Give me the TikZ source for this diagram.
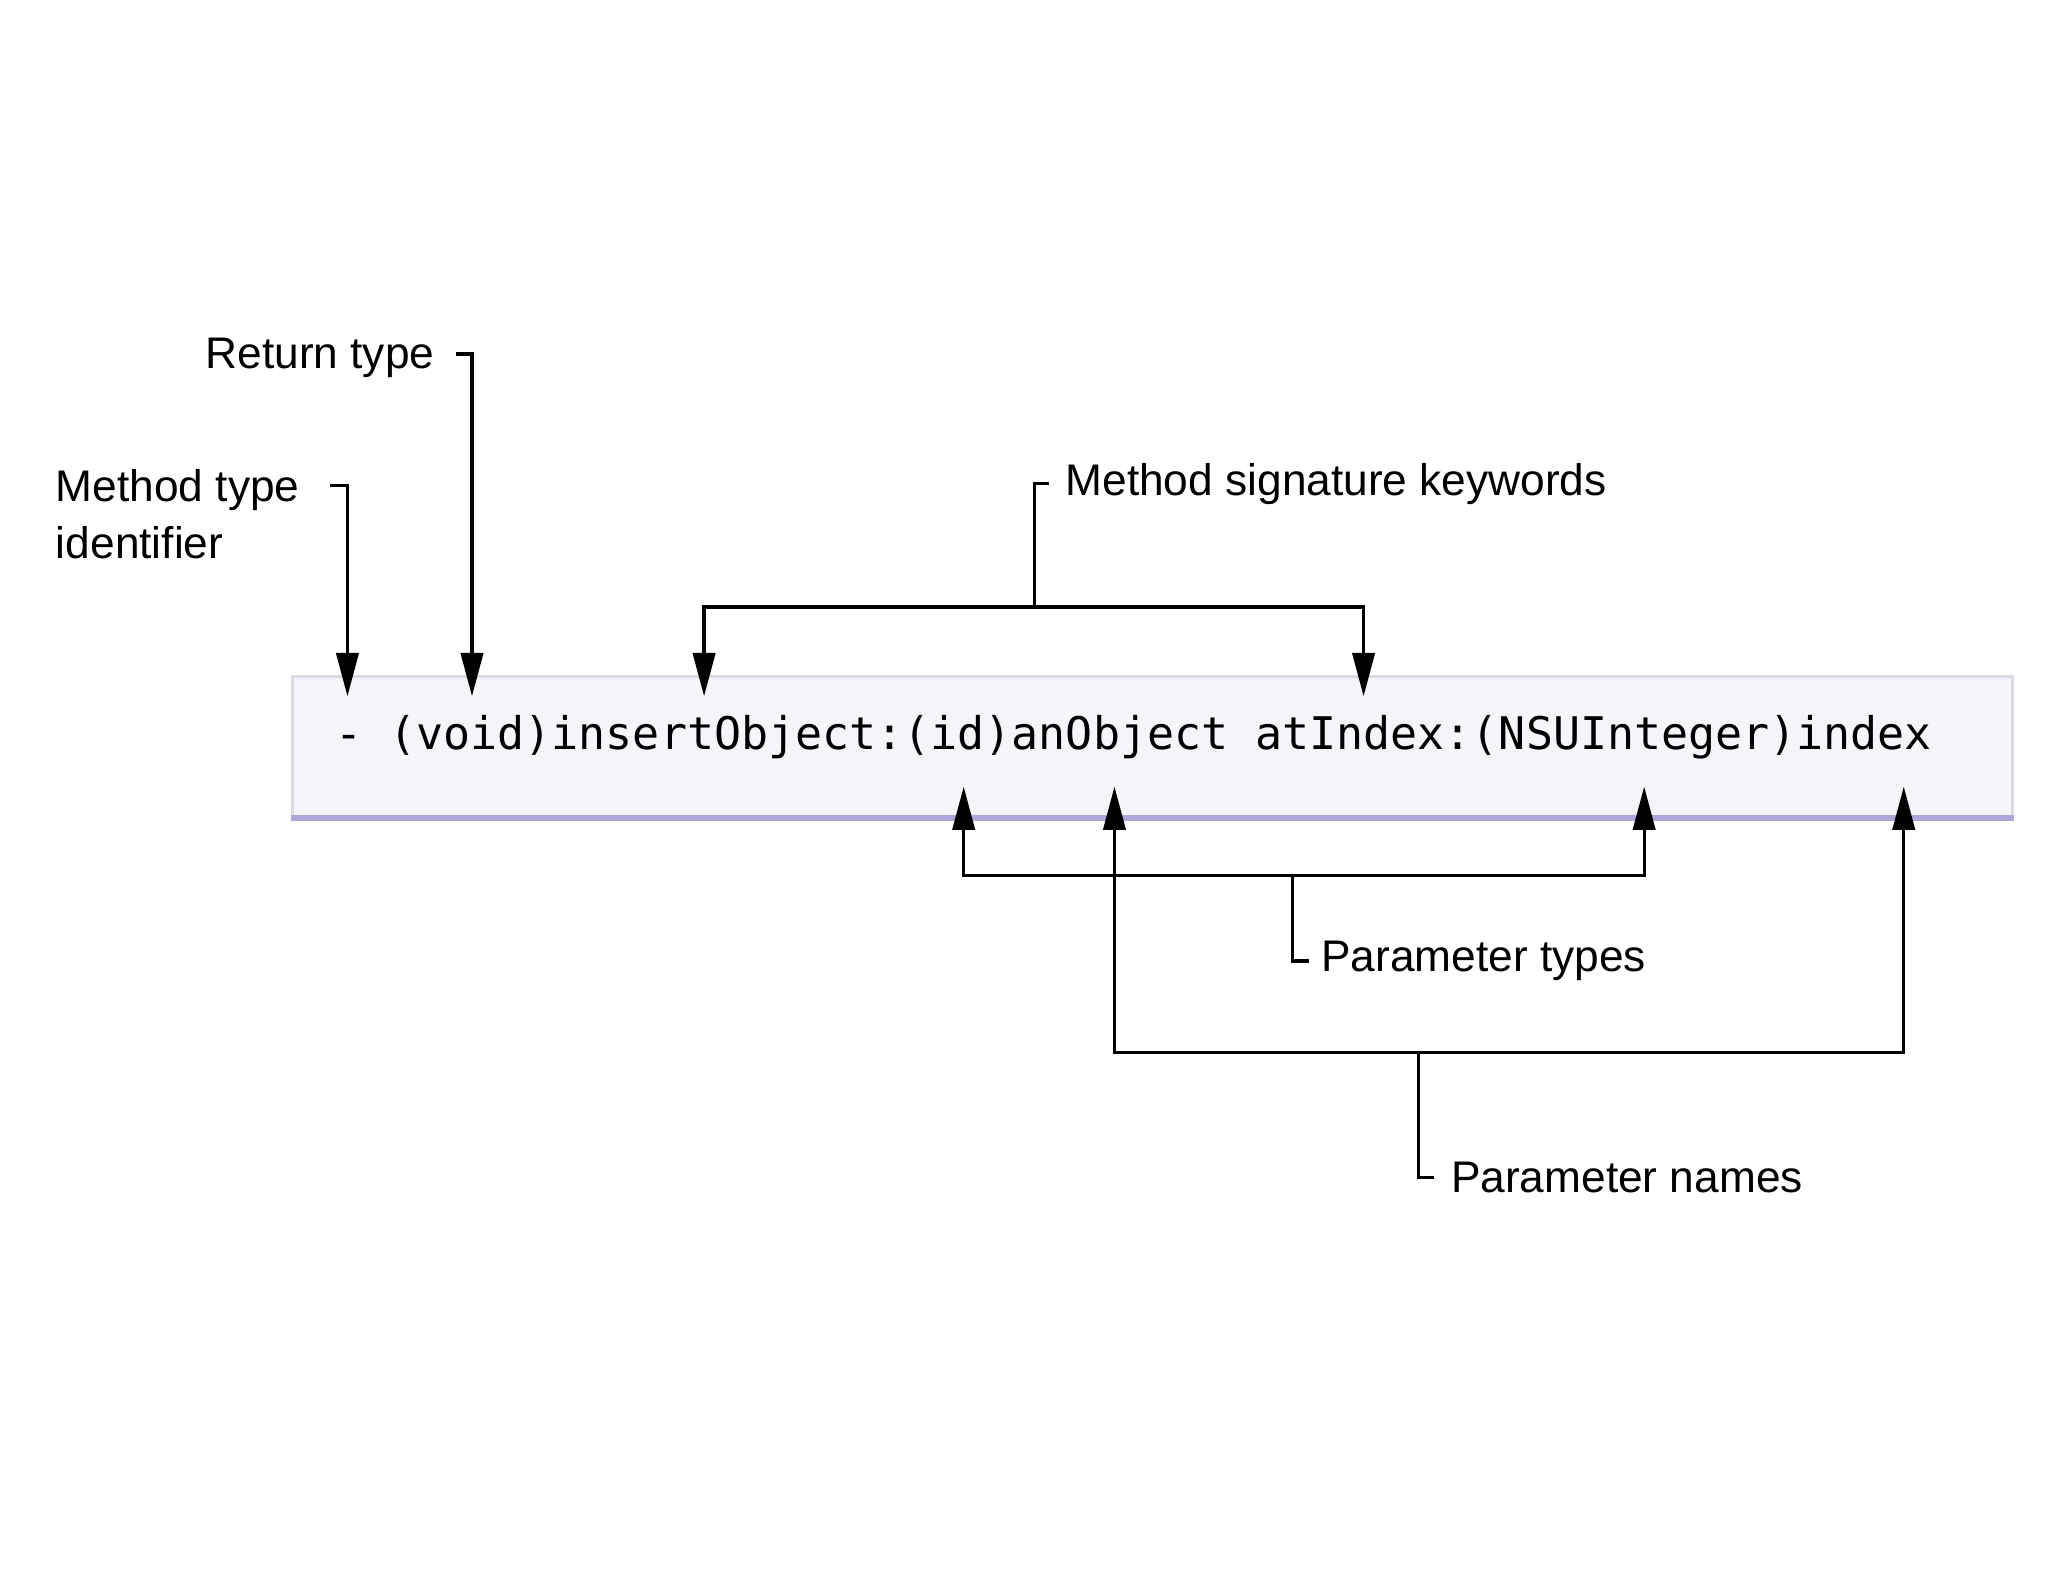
\documentclass[tikz,border=0pt]{standalone}
\usepackage{fontspec}
\setmainfont{Liberation Sans}
\newfontfamily\codefont{DejaVu Sans Mono}
\usetikzlibrary{arrows.meta}
\definecolor{boxfill}{HTML}{F4F5FB}
\definecolor{boxline}{HTML}{D8DAE4}
\definecolor{boxbottom}{HTML}{ADA6DA}
\begin{document}
\begin{tikzpicture}[x=0.01cm,y=-0.01cm,
  lbl/.style={font=\fontsize{9.6}{12.5}\selectfont, inner sep=0pt, align=left},
  conn/.style={line width=0.7pt, black},
  arr/.style={conn, -{Triangle[length=0.33cm,width=0.17cm]}}]
\useasboundingbox (0,0) rectangle (1562,1206);
\fill[white] (0,0) rectangle (1562,1206);
% code box
\node[draw=boxline, fill=boxfill, line width=0.6pt, minimum width=13.11cm, minimum height=1.07cm, anchor=north west, inner sep=0pt] (box) at (222,515) {};
\draw[boxbottom, line width=1.3pt] (box.south west) -- (box.south east);
\node[font=\codefont\fontsize{9.75}{12}\selectfont, anchor=west, inner sep=0pt] (code) at (255,562) {- (void)insertObject:(id)anObject atIndex:(NSUInteger)index};
% labels
\node[lbl, anchor=north west] (mti) at (42,357) {Method type\\identifier};
\node[lbl, anchor=east] (rt) at (332,273) {Return type};
\node[lbl, anchor=west] (msk) at (812,369) {Method signature keywords};
\node[lbl, anchor=west] (pt) at (1007,733) {Parameter types};
\node[lbl, anchor=west] (pn) at (1106,898) {Parameter names};
% coordinates
\coordinate (a1s) at (252,370); \coordinate (a1c) at (265,370); \coordinate (a1t) at (265,531);
\coordinate (a2s) at (348,270); \coordinate (a2c) at (360,270); \coordinate (a2t) at (360,531);
\coordinate (k0) at (800,369); \coordinate (k1) at (789,369); \coordinate (k2) at (789,463);
\coordinate (kl) at (537,463); \coordinate (klt) at (537,531);
\coordinate (kr) at (1040,463); \coordinate (krt) at (1040,531);
\coordinate (t0) at (998,733); \coordinate (t1) at (986,733); \coordinate (t2) at (986,668);
\coordinate (tl) at (735,668); \coordinate (tlt) at (735,600);
\coordinate (tr) at (1254,668); \coordinate (trt) at (1254,600);
\coordinate (n0) at (1094,898); \coordinate (n1) at (1082,898); \coordinate (n2) at (1082,803);
\coordinate (nl) at (850,803); \coordinate (nlt) at (850,600);
\coordinate (nr) at (1452,803); \coordinate (nrt) at (1452,600);
% connectors
\draw[arr] (a1s) -- (a1c) -- (a1t);
\draw[arr] (a2s) -- (a2c) -- (a2t);
\draw[conn] (k0) -- (k1) -- (k2);
\draw[arr] (k2) -- (kl) -- (klt);
\draw[arr] (k2) -- (kr) -- (krt);
\draw[conn] (t0) -- (t1) -- (t2);
\draw[arr] (t2) -- (tl) -- (tlt);
\draw[arr] (t2) -- (tr) -- (trt);
\draw[conn] (n0) -- (n1) -- (n2);
\draw[arr] (n2) -- (nl) -- (nlt);
\draw[arr] (n2) -- (nr) -- (nrt);
\end{tikzpicture}
\end{document}
